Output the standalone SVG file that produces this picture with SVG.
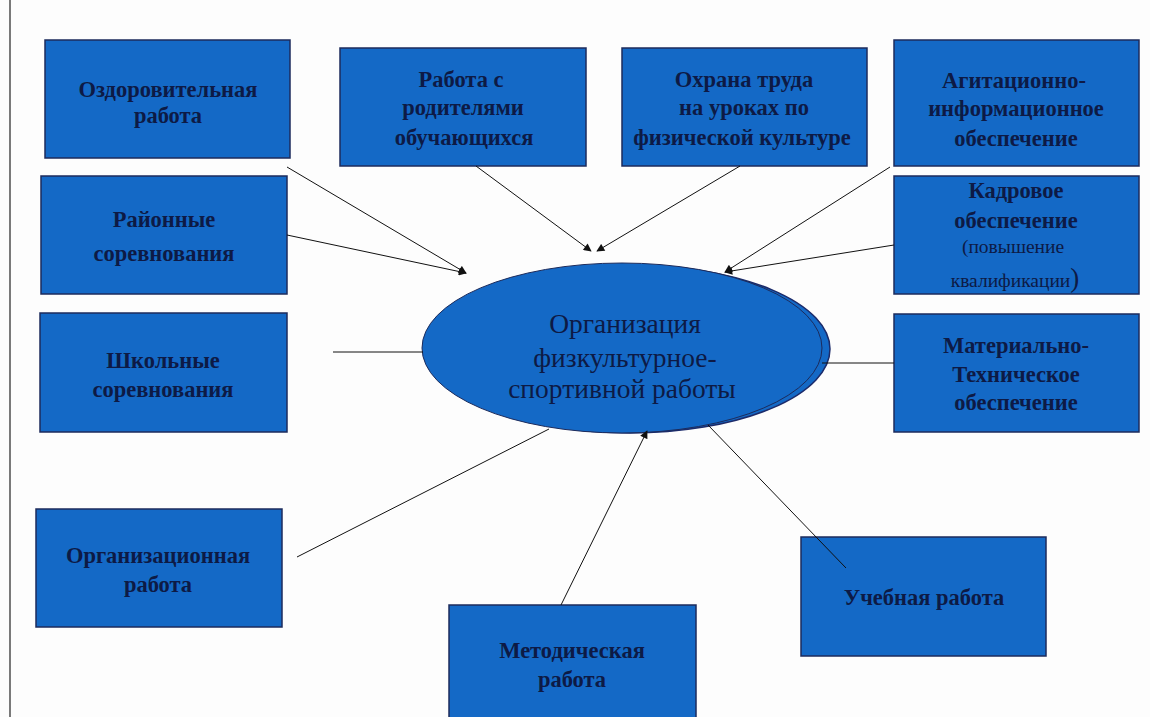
<svg xmlns="http://www.w3.org/2000/svg" width="1150" height="717" viewBox="0 0 1150 717">
<defs>
<style>
.box{fill:#1469c6;stroke:#1c2b5c;stroke-width:1.5}
.t{font-family:"Liberation Serif","Times New Roman",serif;font-weight:bold;font-size:22.5px;fill:#0d1a45;text-anchor:middle}
.r{font-weight:normal;font-size:19.5px}
.et{font-family:"Liberation Serif","Times New Roman",serif;font-size:27.5px;fill:#0d1a45;text-anchor:middle}
.ln{stroke:#111;stroke-width:1;fill:none}
.ar{marker-end:url(#ah)}
</style>
<marker id="ah" viewBox="0 0 10 10" refX="9" refY="5" markerWidth="9" markerHeight="8" markerUnits="userSpaceOnUse" orient="auto">
<path d="M0,0 L10,5 L0,10 z" fill="#111"/>
</marker>
</defs>
<rect width="1150" height="717" fill="#fdfdfd"/>
<line x1="10" y1="0" x2="10" y2="717" stroke="#222" stroke-width="1.2"/>

<g id="center">
<ellipse cx="630" cy="349" rx="200" ry="84" fill="#1469c6" stroke="#1c2b6a" stroke-width="1.5"/>
<ellipse cx="622" cy="348" rx="200" ry="85" fill="#1469c6" stroke="#1c2b5c" stroke-width="1"/>
<text class="et" x="625" y="333">Организация</text>
<text class="et" x="625" y="367">физкультурное-</text>
<text class="et" x="622" y="398">спортивной работы</text>
</g>

<g id="n-ozdor"><rect class="box" x="45" y="40" width="245" height="118"/>
<text class="t" x="168" y="97">Оздоровительная</text><text class="t" x="168" y="123">работа</text></g>

<g id="n-rayon"><rect class="box" x="41" y="176" width="246" height="118"/>
<text class="t" x="164" y="227">Районные</text><text class="t" x="164" y="261">соревнования</text></g>

<g id="n-shkol"><rect class="box" x="40" y="313" width="247" height="119"/>
<text class="t" x="163" y="368">Школьные</text><text class="t" x="163" y="397">соревнования</text></g>

<g id="n-org"><rect class="box" x="36" y="509" width="246" height="118"/>
<text class="t" x="158" y="563">Организационная</text><text class="t" x="158" y="592">работа</text></g>

<g id="n-rodit"><rect class="box" x="340" y="48" width="246" height="118"/>
<text class="t" x="461" y="87">Работа с</text><text class="t" x="463" y="115">родителями</text><text class="t" x="464" y="145">обучающихся</text></g>

<g id="n-ohrana"><rect class="box" x="622" y="48" width="245" height="118"/>
<text class="t" x="744" y="87">Охрана труда</text><text class="t" x="744" y="115">на уроках по</text><text class="t" x="742" y="145">физической культуре</text></g>

<g id="n-agit"><rect class="box" x="894" y="40" width="245" height="126"/>
<text class="t" x="1014" y="88">Агитационно-</text><text class="t" x="1016" y="116">информационное</text><text class="t" x="1016" y="146">обеспечение</text></g>

<g id="n-kadr"><rect class="box" x="894" y="176" width="245" height="118"/>
<text class="t" x="1016" y="198">Кадровое</text><text class="t" x="1016" y="228">обеспечение</text>
<text class="t r" x="1013" y="253">(повышение</text>
<text class="t r" x="1015" y="287">квалификации<tspan font-size="27">)</tspan></text></g>

<g id="n-mat"><rect class="box" x="894" y="314" width="245" height="118"/>
<text class="t" x="1016" y="353">Материально-</text><text class="t" x="1016" y="382">Техническое</text><text class="t" x="1016" y="410">обеспечение</text></g>

<g id="n-ucheb"><rect class="box" x="801" y="537" width="245" height="119"/>
<text class="t" x="924" y="605">Учебная работа</text></g>

<g id="n-metod"><rect class="box" x="449" y="605" width="247" height="120"/>
<text class="t" x="572" y="658">Методическая</text><text class="t" x="572" y="687">работа</text></g>

<g id="connectors">
<line class="ln ar" x1="287" y1="167" x2="466" y2="273"/>
<line class="ln ar" x1="287" y1="235" x2="466" y2="273"/>
<line class="ln ar" x1="476" y1="166" x2="591" y2="251"/>
<line class="ln ar" x1="740" y1="166" x2="597" y2="251"/>
<line class="ln ar" x1="890" y1="167" x2="725" y2="272"/>
<line class="ln ar" x1="894" y1="245" x2="725" y2="272"/>
<line class="ln" x1="333" y1="352" x2="423" y2="352"/>
<line class="ln" x1="822" y1="363" x2="894" y2="363"/>
<line class="ln" x1="297" y1="557" x2="549" y2="429"/>
<line class="ln ar" x1="561" y1="605" x2="647" y2="431"/>
<line class="ln" x1="708" y1="425" x2="846" y2="568"/>
</g>
</svg>
